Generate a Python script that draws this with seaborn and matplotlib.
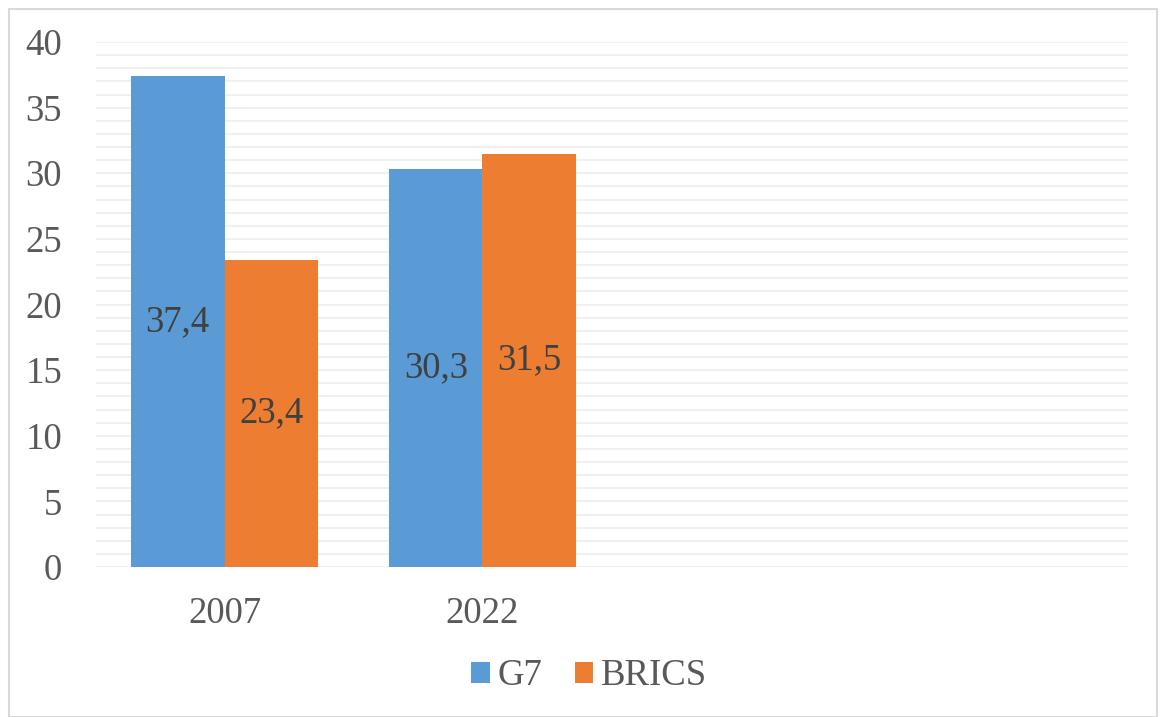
import matplotlib
matplotlib.use("Agg")
import matplotlib.pyplot as plt
import seaborn as sns
import pandas as pd
from matplotlib.patches import Rectangle

years = ["2007", "2022"]
g7 = [37.4, 30.3]
brics = [23.4, 31.5]
g7_labels = ["37,4", "30,3"]
brics_labels = ["23,4", "31,5"]
series = ["G7", "BRICS"]
colors = ["#5B9BD5", "#ED7D31"]

df = pd.DataFrame({
    "year": years * 2,
    "value": g7 + brics,
    "series": ["G7"] * len(years) + ["BRICS"] * len(years),
    "label": g7_labels + brics_labels,
})

sns.set_style("white")
plt.rcParams["font.family"] = ["Liberation Serif", "DejaVu Serif"]

FS = 26.5

fig = plt.figure(figsize=(11.62, 7.17), dpi=100)
ax = fig.add_axes([95.5 / 1162, 1 - 567 / 717, 1032 / 1162, 525 / 717])

sns.barplot(data=df, x="year", y="value", hue="series", order=years,
            hue_order=series, palette=colors, width=0.725, gap=0,
            saturation=1, ax=ax, edgecolor="none", legend=True)

ax.set_xlim(-0.5, 3.5)
ax.set_ylim(0, 40)
ax.set_yticks(range(0, 41, 5))
ax.set_yticks(range(0, 41, 1), minor=True)
ax.grid(True, which="both", axis="y", color="#f0f0f0", lw=1.4, zorder=0)
ax.set_axisbelow(True)
for s in ax.spines.values():
    s.set_visible(False)
ax.set_xlabel("")
ax.set_ylabel("")
ax.tick_params(axis="y", which="both", length=0, pad=24, labelsize=FS, labelcolor="#595959")
ax.tick_params(axis="x", length=0, pad=21, labelsize=FS, labelcolor="#595959")

for container, labs in zip(ax.containers, [g7_labels, brics_labels]):
    ax.bar_label(container, labels=labs, label_type="center", fontsize=FS, color="#404040")

handles, _ = ax.get_legend_handles_labels()
ax.legend(handles, series, loc="center", bbox_to_anchor=(589 / 1162, 1 - 676 / 717),
          bbox_transform=fig.transFigure, ncol=2, frameon=False, fontsize=FS,
          labelcolor="#595959", handlelength=0.5, handleheight=0.5,
          handletextpad=0.2, columnspacing=0.9)

fig.patches.append(Rectangle((9 / 1162, 0), 1148 / 1162, 1 - 9 / 717,
                             transform=fig.transFigure, fill=False,
                             edgecolor="#d9d9d9", lw=1.5))

fig.savefig("out.png", dpi=100)
